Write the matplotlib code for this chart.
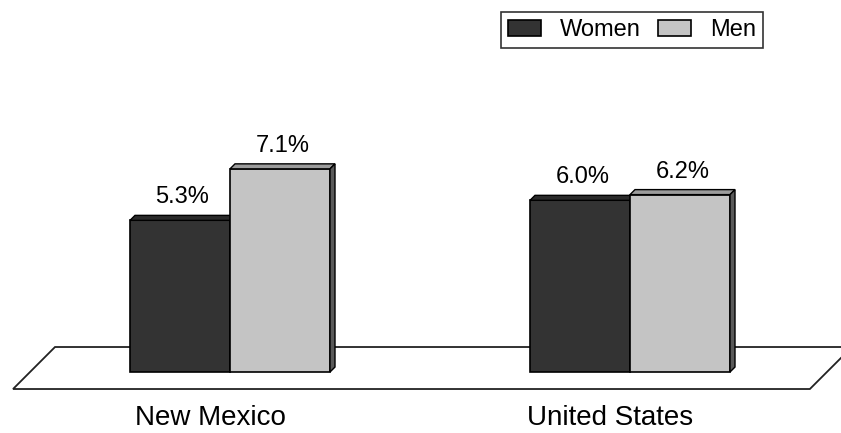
import numpy as np
import matplotlib.pyplot as plt
from matplotlib.patches import Polygon, Patch

regions = ['New Mexico', 'United States']
women = [5.3, 6.0]
men = [7.1, 6.2]
series = ['Women', 'Men']

plt.rcParams['font.family'] = ['Liberation Sans', 'DejaVu Sans']

front = {'Women': '#333333', 'Men': '#c4c4c4'}
top = {'Women': '#2a2a2a', 'Men': '#9c9c9c'}
side = {'Women': '#222222', 'Men': '#5a5a5a'}

fig = plt.figure(figsize=(8.41, 4.33), dpi=100)
ax = fig.add_axes([0, 0, 1, 1])
ax.set_xlim(-0.575, 1.5275)
ax.set_ylim(-2.13, 13.0)
ax.axis('off')

x = np.arange(len(regions))
w = 0.25

# pixel depth of the fake 3d extrusion, expressed in data units
inv = ax.transData.inverted()
p0 = inv.transform((0, 0))
p1 = inv.transform((5, 5))
dx, dy = p1 - p0

# floor slab under the bars
floor = Polygon([(0.0654, 0.1986), (1.013, 0.1986), (0.963, 0.1016), (0.0155, 0.1016)],
                closed=True, transform=ax.transAxes, facecolor='white',
                edgecolor='#222222', lw=1.3, zorder=1)
ax.add_patch(floor)


def box3d(xc, h, name, z):
    l, r = xc - w / 2, xc + w / 2
    ax.bar(xc, h, w, color=front[name], edgecolor='black', lw=1.2, zorder=z)
    ax.add_patch(Polygon([(l, h), (r, h), (r + dx, h + dy), (l + dx, h + dy)],
                         facecolor=top[name], edgecolor='black', lw=1.0, zorder=z))
    ax.add_patch(Polygon([(r, 0), (r + dx, dy), (r + dx, h + dy), (r, h)],
                         facecolor=side[name], edgecolor='black', lw=1.0, zorder=z))
    ax.annotate(f'{h:.1f}%', (xc + dx / 2, h + dy), xytext=(0, 5),
                textcoords='offset points', ha='center', va='bottom', fontsize=17)


for i in range(len(regions)):
    box3d(x[i] - w / 2, women[i], 'Women', 3)
    box3d(x[i] + w / 2, men[i], 'Men', 4)
    ax.text(x[i] - 0.05, -1.62, regions[i], ha='center', va='center', fontsize=20)

handles = [Patch(facecolor=front[s], edgecolor='black', lw=1.2) for s in series]
leg = ax.legend(handles, series, loc='upper right', bbox_to_anchor=(0.907, 0.972),
                ncol=2, fontsize=17, frameon=True, fancybox=False, borderaxespad=0,
                handlelength=1.4, handleheight=0.7, handletextpad=0.8,
                columnspacing=0.7, borderpad=0.3)
leg.get_frame().set_edgecolor('black')
leg.get_frame().set_linewidth(1.2)

fig.savefig('out.png', dpi=100)
